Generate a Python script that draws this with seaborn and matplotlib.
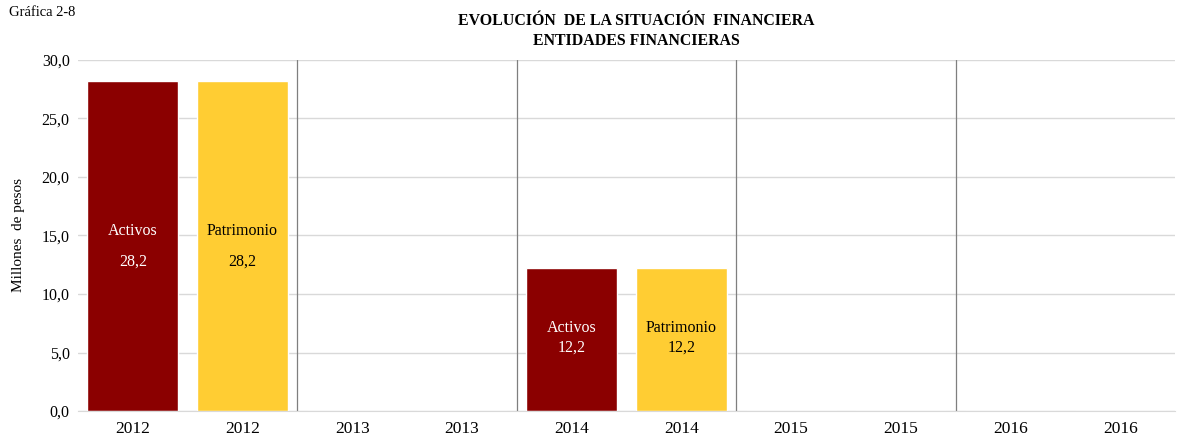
import matplotlib
matplotlib.use('Agg')
import matplotlib.pyplot as plt
import seaborn as sns
import pandas as pd

# ── Data ─────────────────────────────────────────────
years = ['2012', '2012', '2013', '2013', '2014', '2014', '2015', '2015', '2016', '2016']
series = ['Activos', 'Patrimonio'] * 5
values = [28.2, 28.2, 0, 0, 12.2, 12.2, 0, 0, 0, 0]
colors = {'Activos': '#8B0000', 'Patrimonio': '#FFCD33'}

df = pd.DataFrame({'slot': [str(i) for i in range(len(years))],
                   'serie': series, 'valor': values})

sns.set_style('white')
plt.rcParams['font.family'] = ['Liberation Serif', 'DejaVu Serif']
plt.rcParams['text.color'] = 'black'
plt.rcParams['xtick.color'] = 'black'
plt.rcParams['ytick.color'] = 'black'
plt.rcParams['axes.labelcolor'] = 'black'

fig = plt.figure(figsize=(11.78, 4.43), dpi=100)
ax = fig.add_axes([0.0662, 0.0722, 0.9313, 0.7924])

sns.barplot(data=df, x='slot', y='valor', hue='serie', palette=colors,
            dodge=False, width=0.83, saturation=1, legend=False, ax=ax)

ax.set_ylim(0, 30)
ax.set_xlim(-0.5, len(years) - 0.5)
ax.set_yticks(range(0, 31, 5))
ax.set_yticklabels([f'{v},0' for v in range(0, 31, 5)], fontsize=11.5)
ax.set_xticks(range(len(years)))
ax.set_xticklabels(years, fontsize=12.5)
ax.tick_params(axis='x', length=0, pad=7)
ax.tick_params(axis='y', length=0, pad=6)
ax.yaxis.grid(True, color='#d9d9d9', linewidth=1)
ax.set_axisbelow(True)
for s in ['top', 'right', 'left']:
    ax.spines[s].set_visible(False)
ax.spines['bottom'].set_color('#d9d9d9')
ax.set_xlabel('')
ax.set_ylabel('Millones  de pesos', fontsize=11, labelpad=12)

# separators between years
for x in [1.5, 3.5, 5.5, 7.5]:
    ax.axvline(x, color='#7f7f7f', linewidth=0.9)

# bar labels
for i, (s, v) in enumerate(zip(series, values)):
    if v <= 0:
        continue
    tc = 'white' if s == 'Activos' else 'black'
    y1, y2 = (15.4, 12.8) if v > 20 else (7.1, 5.4)
    ax.text(i, y1, s, ha='center', va='center', color=tc, fontsize=11.5)
    ax.text(i, y2, f'{v:.1f}'.replace('.', ','), ha='center', va='center', color=tc, fontsize=11.5)

fig.text(0.0076, 0.972, 'Gráfica 2-8', fontsize=10.5, va='center')
fig.text(0.54, 0.93, 'EVOLUCIÓN  DE LA SITUACIÓN  FINANCIERA\nENTIDADES FINANCIERAS',
         ha='center', va='center', fontsize=11.4, fontweight='bold', linespacing=1.4)

fig.savefig('out.png', dpi=100)
